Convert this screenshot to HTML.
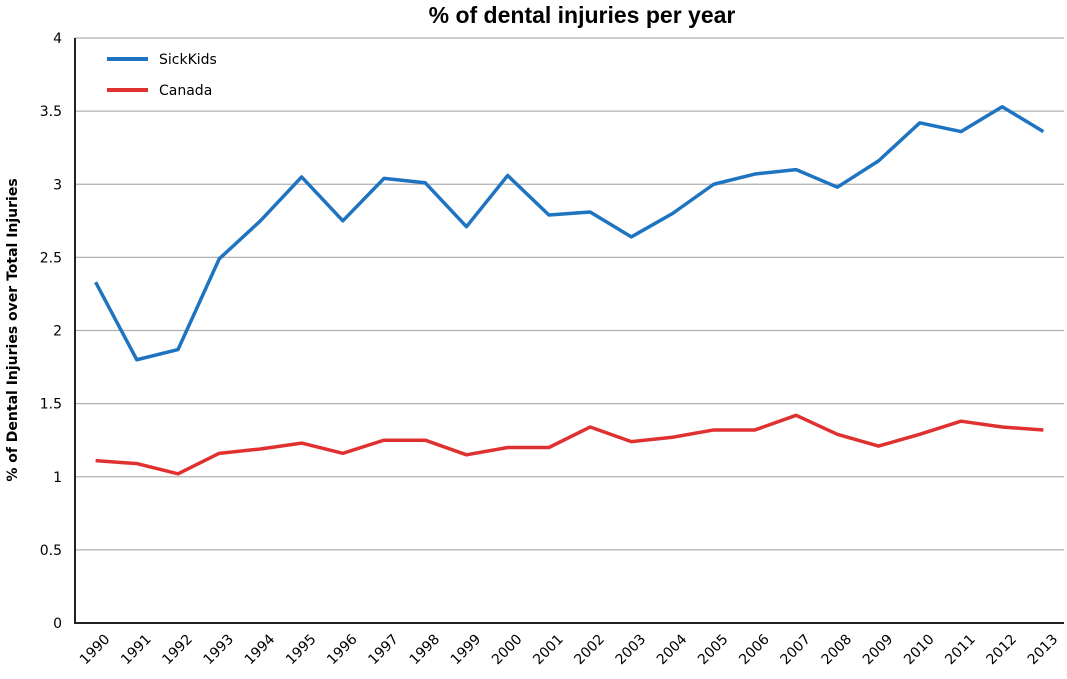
<!DOCTYPE html>
<html><head><meta charset="utf-8"><style>
body{margin:0;background:#fff;}
svg text{font-family:"DejaVu Sans","Liberation Sans",sans-serif;}
</style></head><body>
<svg id="chart" width="1067" height="674" viewBox="0 0 1067 674">
<text x="582" y="23" text-anchor="middle" font-size="23" font-weight="bold" style="font-family:'Liberation Sans',sans-serif">% of dental injuries per year</text>
<text transform="translate(17,330) rotate(-90)" text-anchor="middle" font-size="14" font-weight="bold">% of Dental Injuries over Total Injuries</text>
<g id="grid"></g><g id="yticks"></g><g id="xticks"></g><g id="series"></g>
<g>
<line x1="107" y1="59" x2="148" y2="59" stroke="#1f74c1" stroke-width="4"/>
<text x="159" y="64" font-size="14">SickKids</text>
<line x1="107" y1="90" x2="148" y2="90" stroke="#e03131" stroke-width="4"/>
<text x="159" y="95" font-size="14">Canada</text>
</g>
</svg>
<script>
const years=[1990,1991,1992,1993,1994,1995,1996,1997,1998,1999,2000,2001,2002,2003,2004,2005,2006,2007,2008,2009,2010,2011,2012,2013];
const sickKids=[2.33,1.80,1.87,2.49,2.75,3.05,2.75,3.04,3.01,2.71,3.06,2.79,2.81,2.64,2.80,3.00,3.07,3.10,2.98,3.16,3.42,3.36,3.53,3.36];
const canada=[1.11,1.09,1.02,1.16,1.19,1.23,1.16,1.25,1.25,1.15,1.20,1.20,1.34,1.24,1.27,1.32,1.32,1.42,1.29,1.21,1.29,1.38,1.34,1.32];
const yTicks=[0,0.5,1,1.5,2,2.5,3,3.5,4];
const L=75,R=1064,T=38,B=623;
const NS='http://www.w3.org/2000/svg';
const band=(R-L)/years.length;
const x=i=>L+band*(i+0.5);
const y=v=>B-(v/4)*(B-T);
function mk(tag,attrs,parent){const e=document.createElementNS(NS,tag);for(const k in attrs)e.setAttribute(k,attrs[k]);document.getElementById(parent).appendChild(e);return e;}
yTicks.forEach(t=>{
  if(t>0){const g=mk('line',{x1:L,x2:R,y1:y(t),y2:y(t),stroke:'#b0b0b0','stroke-width':1.3},'grid');
  
  }
  const tx=mk('text',{x:62,y:y(t)+5,'text-anchor':'end','font-size':14},'yticks');tx.textContent=t;
  
  
});
const ax=mk('path',{d:`M${L},${T} V${B} H${R}`,fill:'none',stroke:'#222','stroke-width':2},'grid');


years.forEach((yr,i)=>{
  const tx=mk('text',{transform:`translate(${x(i)+15},${B+17}) rotate(-45)`,'text-anchor':'end','font-size':14},'xticks');tx.textContent=yr;
  
  
});
function line(vals,color,name){
  const p=mk('polyline',{points:vals.map((v,i)=>x(i)+','+y(v)).join(' '),fill:'none',stroke:color,'stroke-width':3.5,'stroke-linejoin':'round'},'series');
  
  
}
line(sickKids,'#1f74c1','sickkids-line');
line(canada,'#e03131','canada-line');
</script>
</body></html>
